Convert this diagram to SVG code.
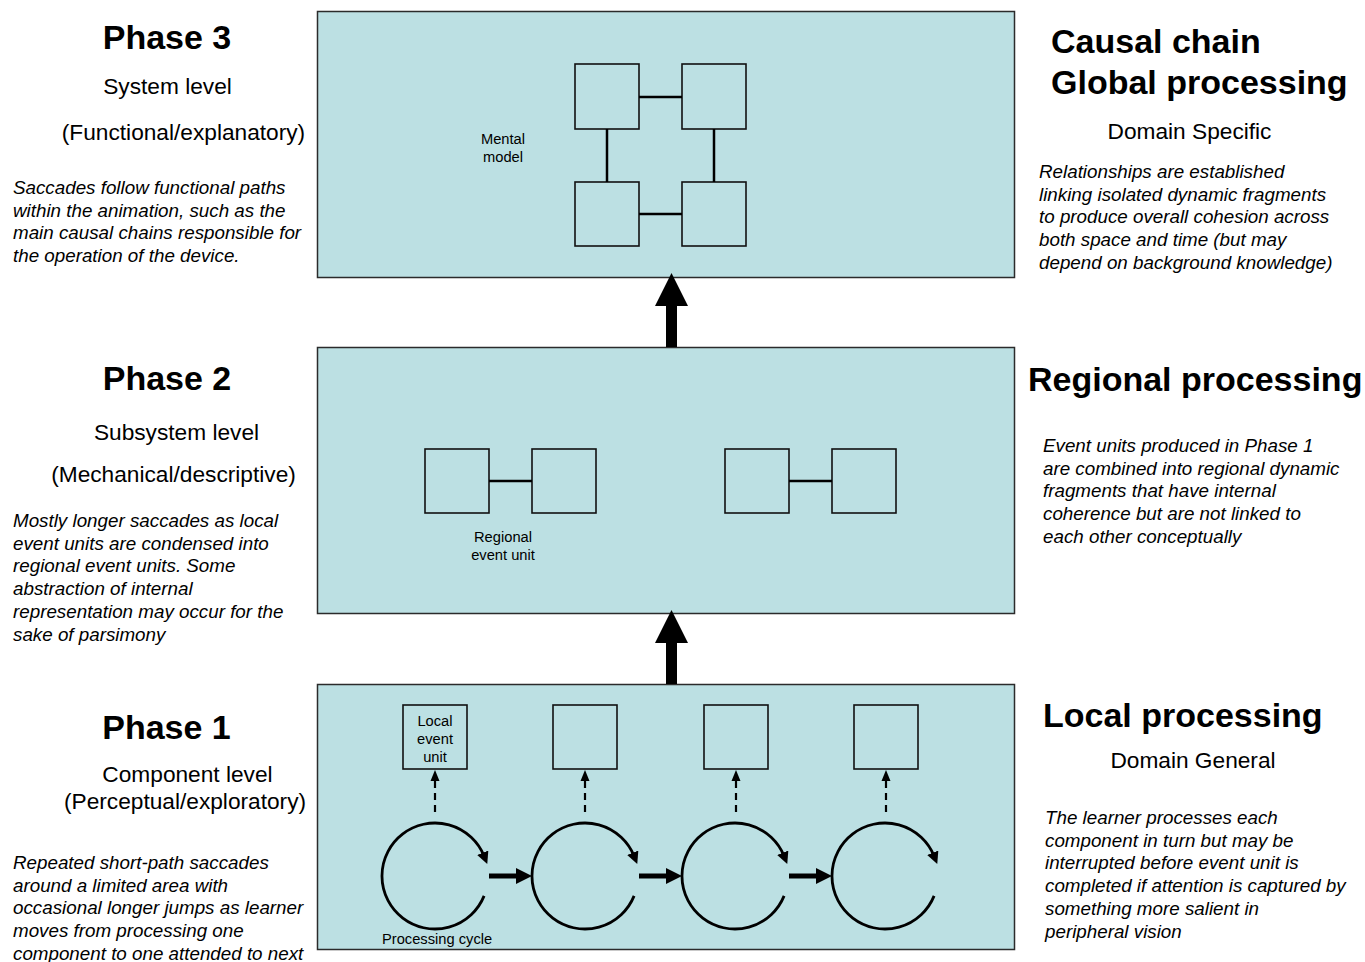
<svg xmlns="http://www.w3.org/2000/svg" width="1365" height="962" viewBox="0 0 1365 962">
<defs>
<style>
text{font-family:"Liberation Sans",Arial,sans-serif;fill:#000}
.h{font-size:34px;font-weight:bold}
.s{font-size:22.7px}
.i{font-size:18.8px;font-style:italic}
.l{font-size:14.7px}
.c{text-anchor:middle}
.panel{fill:#bce0e3;stroke:#2b2b2b;stroke-width:1.5}
.sq{fill:none;stroke:#111;stroke-width:1.6}
.ln{stroke:#000;stroke-width:2.5;fill:none}
.cyc{stroke:#000;stroke-width:2.8;fill:none}
.dash{stroke:#000;stroke-width:2.2;stroke-dasharray:7 5;fill:none}
</style>
<marker id="ah" viewBox="0 0 10 10" refX="3" refY="5" markerWidth="12" markerHeight="12" markerUnits="userSpaceOnUse" orient="auto">
<path d="M0,0 L10,5 L0,10 z" fill="#000"/>
</marker>
</defs>
<rect width="1365" height="962" fill="#fff"/>

<g id="phase3-panel">
<rect class="panel" x="317.5" y="11.5" width="697" height="266"/>
<rect class="sq" x="575" y="64" width="64" height="65"/>
<rect class="sq" x="682" y="64" width="64" height="65"/>
<rect class="sq" x="575" y="182" width="64" height="64"/>
<rect class="sq" x="682" y="182" width="64" height="64"/>
<text class="l c" x="503" y="144">Mental</text>
<text class="l c" x="503" y="162">model</text>
</g>

<g id="phase2-panel">
<rect class="panel" x="317.5" y="347.5" width="697" height="266"/>
<rect class="sq" x="425" y="449" width="64" height="64"/>
<rect class="sq" x="532" y="449" width="64" height="64"/>
<rect class="sq" x="725" y="449" width="64" height="64"/>
<rect class="sq" x="832" y="449" width="64" height="64"/>
<text class="l c" x="503" y="542">Regional</text>
<text class="l c" x="503" y="560">event  unit</text>
</g>

<g id="phase1-panel">
<rect class="panel" x="317.5" y="684.5" width="697" height="265"/>
<rect class="sq" x="403" y="705" width="64" height="64"/>
<rect class="sq" x="553" y="705" width="64" height="64"/>
<rect class="sq" x="704" y="705" width="64" height="64"/>
<rect class="sq" x="854" y="705" width="64" height="64"/>
<text class="l c" x="435" y="726">Local</text>
<text class="l c" x="435" y="744">event</text>
<text class="l c" x="435" y="762">unit</text>
<text class="l" x="382" y="944">Processing  cycle</text>
</g>

<g id="connectors">
<line class="ln" x1="639" y1="97" x2="682" y2="97"/>
<line class="ln" x1="639" y1="214" x2="682" y2="214"/>
<line class="ln" x1="607" y1="129" x2="607" y2="182"/>
<line class="ln" x1="714" y1="129" x2="714" y2="182"/>
<line class="ln" x1="489" y1="481" x2="532" y2="481"/>
<line class="ln" x1="789" y1="481" x2="832" y2="481"/>
<polygon points="666,347 677,347 677,306 688,306 671.5,273 655,306 666,306" fill="#000"/>
<polygon points="666,684 677,684 677,643 688,643 671.5,610 655,643 666,643" fill="#000"/>
<path class="cyc" marker-end="url(#ah)" d="M484.1,895.9 A53,53 0 1 1 484.1,856.1"/>
<path class="cyc" marker-end="url(#ah)" d="M634.1,895.9 A53,53 0 1 1 634.1,856.1"/>
<path class="cyc" marker-end="url(#ah)" d="M784.1,895.9 A53,53 0 1 1 784.1,856.1"/>
<path class="cyc" marker-end="url(#ah)" d="M934.1,895.9 A53,53 0 1 1 934.1,856.1"/>
<line x1="489" y1="876" x2="518" y2="876" stroke="#000" stroke-width="5"/>
<polygon points="516,868 532,876 516,884" fill="#000"/>
<line x1="639" y1="876" x2="668" y2="876" stroke="#000" stroke-width="5"/>
<polygon points="666,868 682,876 666,884" fill="#000"/>
<line x1="789" y1="876" x2="818" y2="876" stroke="#000" stroke-width="5"/>
<polygon points="816,868 832,876 816,884" fill="#000"/>
<line class="dash" x1="435" y1="812" x2="435" y2="780"/>
<polygon points="435,770 430.5,781 439.5,781" fill="#000"/>
<line class="dash" x1="585" y1="812" x2="585" y2="780"/>
<polygon points="585,770 580.5,781 589.5,781" fill="#000"/>
<line class="dash" x1="736" y1="812" x2="736" y2="780"/>
<polygon points="736,770 731.5,781 740.5,781" fill="#000"/>
<line class="dash" x1="886" y1="812" x2="886" y2="780"/>
<polygon points="886,770 881.5,781 890.5,781" fill="#000"/>
</g>

<g id="phase3-left">
<text class="h c" x="167" y="49">Phase 3</text>
<text class="s c" x="167.5" y="94">System level</text>
<text class="s c" x="183.5" y="140">(Functional/explanatory)</text>
<text class="i" x="13" y="194">Saccades follow functional paths</text>
<text class="i" x="13" y="216.7">within the animation, such as the</text>
<text class="i" x="13" y="239.4">main causal chains responsible for</text>
<text class="i" x="13" y="262">the operation of the device.</text>
</g>

<g id="phase2-left">
<text class="h c" x="167" y="390">Phase 2</text>
<text class="s c" x="176.5" y="440">Subsystem level</text>
<text class="s c" x="173.5" y="482">(Mechanical/descriptive)</text>
<text class="i" x="13" y="527">Mostly longer saccades as local</text>
<text class="i" x="13" y="549.7">event units are condensed into</text>
<text class="i" x="13" y="572.4">regional event units. Some</text>
<text class="i" x="13" y="595.1">abstraction of internal</text>
<text class="i" x="13" y="617.8">representation may occur for the</text>
<text class="i" x="13" y="640.5">sake of parsimony</text>
</g>

<g id="phase1-left">
<text class="h c" x="166.5" y="739">Phase 1</text>
<text class="s c" x="187.5" y="782">Component level</text>
<text class="s c" x="185" y="809">(Perceptual/exploratory)</text>
<text class="i" x="13" y="869">Repeated short-path saccades</text>
<text class="i" x="13" y="891.7">around a limited area with</text>
<text class="i" x="13" y="914.4">occasional longer jumps as learner</text>
<text class="i" x="13" y="937.1">moves from processing one</text>
<text class="i" x="13" y="959.8">component to one attended to next</text>
</g>

<g id="global-right">
<text class="h" x="1051" y="53">Causal chain</text>
<text class="h" x="1051" y="94">Global processing</text>
<text class="s c" x="1189.5" y="139">Domain Specific</text>
<text class="i" x="1039" y="178">Relationships are established</text>
<text class="i" x="1039" y="200.7">linking isolated dynamic fragments</text>
<text class="i" x="1039" y="223.4">to produce overall cohesion across</text>
<text class="i" x="1039" y="246.1">both space and time (but may</text>
<text class="i" x="1039" y="268.8">depend on background knowledge)</text>
</g>

<g id="regional-right">
<text class="h" x="1028" y="391">Regional processing</text>
<text class="i" x="1043" y="452">Event units produced in Phase 1</text>
<text class="i" x="1043" y="474.7">are combined into regional dynamic</text>
<text class="i" x="1043" y="497.4">fragments that have internal</text>
<text class="i" x="1043" y="520.1">coherence but are not linked to</text>
<text class="i" x="1043" y="542.8">each other conceptually</text>
</g>

<g id="local-right">
<text class="h" x="1043" y="727">Local processing</text>
<text class="s c" x="1193" y="768">Domain General</text>
<text class="i" x="1045" y="824">The learner processes each</text>
<text class="i" x="1045" y="846.7">component in turn but may be</text>
<text class="i" x="1045" y="869.4">interrupted before event unit is</text>
<text class="i" x="1045" y="892.1">completed if attention is captured by</text>
<text class="i" x="1045" y="914.8">something more salient in</text>
<text class="i" x="1045" y="937.5">peripheral vision</text>
</g>
</svg>
